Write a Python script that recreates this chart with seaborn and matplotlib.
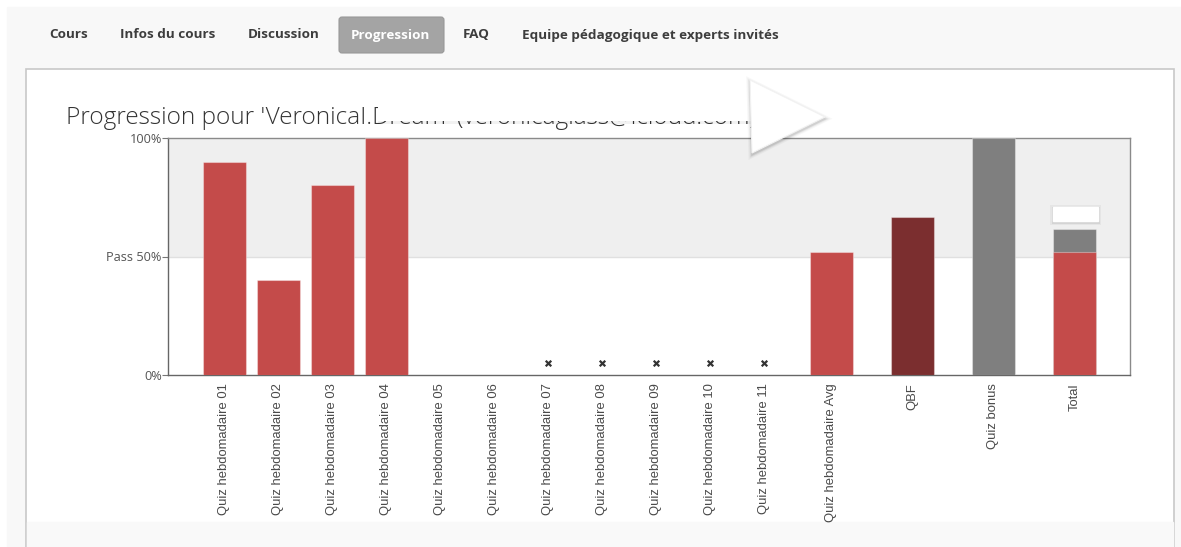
import numpy as np
import pandas as pd
import matplotlib
matplotlib.use("Agg")
import matplotlib.pyplot as plt
import seaborn as sns
from matplotlib.patches import Rectangle, Polygon, FancyBboxPatch
from matplotlib.transforms import ScaledTranslation

# data
categories = ["Quiz hebdomadaire 01", "Quiz hebdomadaire 02", "Quiz hebdomadaire 03",
              "Quiz hebdomadaire 04", "Quiz hebdomadaire 05", "Quiz hebdomadaire 06",
              "Quiz hebdomadaire 07", "Quiz hebdomadaire 08", "Quiz hebdomadaire 09",
              "Quiz hebdomadaire 10", "Quiz hebdomadaire 11", "Quiz hebdomadaire Avg",
              "QBF", "Quiz bonus", "Total"]
scores = [90, 40, 80, 100, 0, 0, 0, 0, 0, 0, 0, 51.7, 66.7, 100, 51.7]
total_bonus = 61.6
not_attempted = ["Quiz hebdomadaire 07", "Quiz hebdomadaire 08", "Quiz hebdomadaire 09",
                 "Quiz hebdomadaire 10", "Quiz hebdomadaire 11"]
nav_items = ["Cours", "Infos du cours", "Discussion", "Progression", "FAQ",
             "Equipe pédagogique et experts invités"]

# layout (slot positions along the x axis, groups separated by wider gaps)
slots = list(range(11)) + [11.25, 12.75, 14.25, 15.75]
RED, DARK, GREY = "#c44b4a", "#7b2e2f", "#7f7f7f"
bar_colors = [RED] * 12 + [DARK, GREY, RED]

W, H = 1181, 547
fig = plt.figure(figsize=(W / 100, H / 100), dpi=100)
fig.patch.set_facecolor("white")

def px(x0, y0, x1, y1):
    return [x0 / W, 1 - y1 / H, (x1 - x0) / W, (y1 - y0) / H]

def pixel_axes(z):
    a = fig.add_axes([0, 0, 1, 1], zorder=z)
    a.set_xlim(0, W)
    a.set_ylim(H, 0)
    a.axis("off")
    a.patch.set_alpha(0)
    return a

# page background + panel
bg = pixel_axes(-10)
bg.add_patch(Rectangle((7, 7), W, H, color="#f8f8f8"))
bg.add_patch(Rectangle((26, 69), 1148, 500, facecolor="white", edgecolor="#c8c8c8", lw=1.2))
bg.add_patch(Rectangle((27, 522), 1146, 30, color="#f9f9f9"))
bg.add_patch(FancyBboxPatch((339, 17), 105, 36, boxstyle="round,pad=0,rounding_size=3",
                            facecolor="#a4a4a4", edgecolor="#999999", lw=0.8))

nav_x = [49, 120, 248, 351, 463, 522]
for name, x in zip(nav_items, nav_x):
    bg.text(x, 35, name, fontsize=9.7, fontweight="bold", family="Open Sans",
            color="white" if name == "Progression" else "#3d3d3d", va="center", ha="left")

bg.text(66, 118, "Progression pour 'VeronicaI.Dream' (veronicaglass@icloud.com)",
        fontsize=17.6, family="Open Sans", fontweight="light", color="#333333",
        va="center", ha="left")

# chart
ax = fig.add_axes(px(168, 138, 1130, 375), zorder=0)
df = pd.DataFrame({"slot": slots, "score": scores, "name": categories})
total_df = pd.DataFrame({"slot": [slots[-1]], "score": [total_bonus]})

ax.axhspan(50, 100, color="#efefef", zorder=0)
ax.axhline(50, color="#e0e0e0", lw=1, zorder=0.5)

sns.barplot(data=total_df, x="slot", y="score", native_scale=True, color=GREY,
            width=0.8, saturation=1, edgecolor=(1, 1, 1, 0.35), linewidth=0.8,
            ax=ax, zorder=2)
sns.barplot(data=df, x="slot", y="score", hue="name", palette=bar_colors, dodge=False,
            native_scale=True, width=0.8, saturation=1, edgecolor=(1, 1, 1, 0.35),
            linewidth=0.8, legend=False, ax=ax, zorder=3)

miss = df[df["name"].isin(not_attempted)]
shift = ax.transData + ScaledTranslation(0, 0.12, fig.dpi_scale_trans)
ax.scatter(miss["slot"], miss["score"], marker="x", s=16, color="#333333",
           linewidths=1.6, transform=shift, zorder=4)

ax.set_xlim(-1.04, 16.78)
ax.set_ylim(0, 100)
ax.set_xticks(slots)
ax.set_xticklabels(categories, rotation=90, fontsize=9.4, color="#4a4a4a",
                   family="Liberation Sans", va="top", ha="center")
ax.set_yticks([0, 50, 100])
ax.set_yticklabels(["0%", "Pass 50%", "100%"], fontsize=9.2, color="#555555",
                   family="Open Sans")
ax.tick_params(axis="x", length=0, pad=6)
ax.tick_params(axis="y", length=4, color="#777777", pad=0.5)
ax.set_xlabel("")
ax.set_ylabel("")
for side in ["left", "bottom"]:
    ax.spines[side].set_color("#666666")
for side in ["top", "right"]:
    ax.spines[side].set_color("#8a8a8a")
for s in ax.spines.values():
    s.set_linewidth(1)

# overlays sitting on top of the page (covered title, play arrow, total label box)
top = pixel_axes(10)
top.add_patch(Rectangle((378, 95), 378, 26, facecolor="white", edgecolor="none"))
top.add_patch(Rectangle((378, 121), 378, 3, facecolor="black", alpha=0.05, lw=0))

arrow = [(750, 80), (825, 117), (752, 153)]
cx, cy = 775, 119
for grow, a in [(6, 0.03), (4, 0.04), (2.5, 0.05), (1.2, 0.07)]:
    pts = [(cx + (x - cx) * (1 + grow / 40), cy + 2 + (y - cy) * (1 + grow / 40))
           for x, y in arrow]
    top.add_patch(Polygon(pts, closed=True, color="black", alpha=a, lw=0))
top.add_patch(Polygon(arrow, closed=True, facecolor="white", edgecolor="#f2f2f2", lw=0.8))

for grow, a in [(3, 0.04), (1.5, 0.07)]:
    top.add_patch(Rectangle((1053 - grow, 208 - grow), 45 + 2 * grow, 14 + 2 * grow,
                            color="black", alpha=a, lw=0))
top.add_patch(Rectangle((1053, 207), 45, 14, color="white"))

fig.savefig("out.png", dpi=100)
